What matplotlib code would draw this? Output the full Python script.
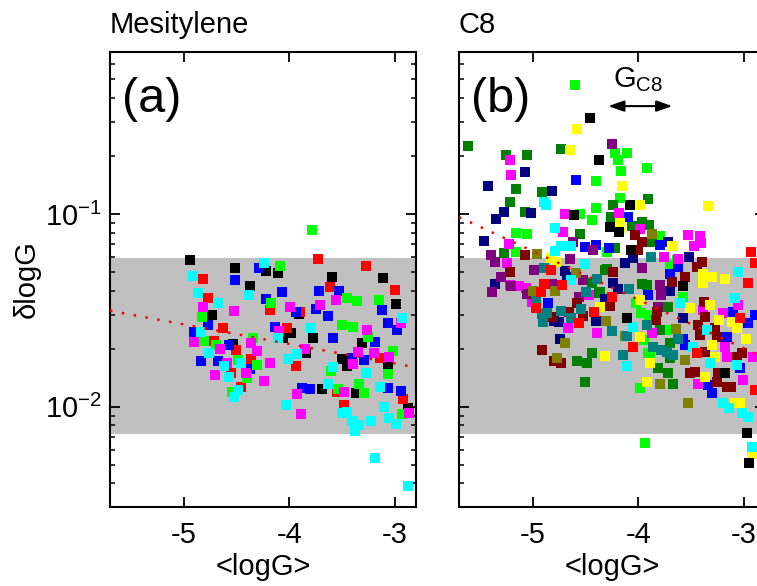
import numpy as np
import matplotlib
matplotlib.use('Agg')
import matplotlib.pyplot as plt
from matplotlib.ticker import MultipleLocator, NullLocator, NullFormatter, LogLocator

plt.rcParams['font.family'] = 'Liberation Sans'
plt.rcParams['mathtext.fontset'] = 'custom'
plt.rcParams['mathtext.rm'] = 'Liberation Sans'
plt.rcParams['mathtext.it'] = 'Liberation Sans:italic'
plt.rcParams['axes.unicode_minus'] = False

### data

# shaded range of dlogG
band_lo, band_hi = 0.0072, 0.059

# (a) Mesitylene
a_black_x = [-4.946, -4.519, -4.377, -4.226, -4.104, -4.736, -4.531, -4.057, -3.594, -3.113, -2.991,
             -3.906, -3.981, -3.774, -3.311, -3.500, -3.453, -3.066, -3.689, -3.368, -3.840, -2.877]
a_black_y = [0.0579, 0.0525, 0.0423, 0.0506, 0.0495, 0.0299, 0.0211, 0.0227, 0.0469, 0.0464, 0.0341,
             0.0303, 0.0241, 0.0227, 0.0213, 0.0177, 0.0163, 0.0161, 0.0124, 0.0118, 0.0191, 0.0098]
a_red_x = [-4.821, -4.774, -4.179, -4.632, -4.717, -4.509, -4.368, -4.557, -4.462, -4.019, -3.726,
           -3.274, -3.613, -3.000, -3.896, -3.934, -3.142, -2.925, -3.481, -3.547]
a_red_y = [0.0459, 0.0366, 0.0318, 0.0256, 0.0220, 0.0197, 0.0178, 0.0150, 0.0127, 0.0256, 0.0584,
           0.0537, 0.0418, 0.0403, 0.0310, 0.0163, 0.0179, 0.0110, 0.0102, 0.0120]
a_blue_x = [-4.519, -4.292, -4.066, -4.217, -4.774, -4.906, -4.575, -4.840, -4.679, -4.377, -4.132,
            -3.717, -3.528, -3.745, -3.632, -3.123, -3.066, -2.981, -3.585, -3.189, -3.292, -3.406,
            -3.802, -3.877, -3.066, -2.943, -3.934]
a_blue_y = [0.0455, 0.0524, 0.0393, 0.0362, 0.0265, 0.0244, 0.0209, 0.0173, 0.0173, 0.0157, 0.0259,
            0.0398, 0.0398, 0.0322, 0.0296, 0.0318, 0.0272, 0.0250, 0.0227, 0.0216, 0.0175, 0.0179,
            0.0124, 0.0125, 0.0125, 0.0121, 0.0310]
a_green_x = [-4.085, -4.170, -4.830, -4.811, -4.698, -4.491, -4.302, -4.406, -4.547, -4.349, -3.783,
             -3.453, -3.358, -3.151, -3.500, -3.396, -3.255, -3.019, -3.604, -3.538, -3.340, -3.292,
             -3.066, -2.934]
a_green_y = [0.0537, 0.0345, 0.0292, 0.0220, 0.0209, 0.0175, 0.0165, 0.0141, 0.0120, 0.0227, 0.0826,
             0.0366, 0.0354, 0.0358, 0.0265, 0.0259, 0.0231, 0.0195, 0.0153, 0.0124, 0.0131, 0.0118,
             0.0148, 0.0092]
a_magenta_x = [-4.821, -4.528, -4.906, -4.660, -4.594, -4.415, -4.708, -4.368, -4.302, -4.179, -4.094,
               -4.236, -3.991, -3.708, -3.557, -3.264, -2.943, -3.849, -3.349, -3.198, -3.396, -3.057,
               -3.481, -3.925, -3.887, -2.868]
a_magenta_y = [0.0329, 0.0314, 0.0217, 0.0199, 0.0169, 0.0150, 0.0146, 0.0213, 0.0195, 0.0169, 0.0247,
               0.0136, 0.0329, 0.0337, 0.0358, 0.0250, 0.0272, 0.0199, 0.0193, 0.0190, 0.0167, 0.0182,
               0.0119, 0.0116, 0.0092, 0.0093]
a_cyan_x = [-4.915, -4.236, -4.868, -4.679, -4.387, -4.840, -4.764, -4.462, -4.623, -4.575, -4.491,
            -4.528, -4.028, -4.104, -4.009, -3.792, -2.934, -3.925, -3.585, -3.274, -3.632, -3.142,
            -3.500, -3.453, -3.406, -3.340, -3.377, -3.226, -3.104, -3.057, -2.991, -3.189, -2.877]
a_cyan_y = [0.0477, 0.0557, 0.0390, 0.0345, 0.0380, 0.0244, 0.0190, 0.0169, 0.0163, 0.0143, 0.0122,
            0.0113, 0.0102, 0.0227, 0.0177, 0.0256, 0.0289, 0.0188, 0.0161, 0.0150, 0.0132, 0.0127,
            0.0093, 0.0094, 0.0084, 0.0080, 0.0075, 0.0084, 0.0100, 0.0087, 0.0081, 0.0054, 0.0039]

a_fit_x = [-5.7, -2.8]
a_fit_y = [0.0315, 0.0160]

# (b) C8
b_lime_x = [-4.597, -4.398, -4.398, -4.436, -4.550, -5.156, -5.052, -5.156, -4.218, -4.104, -4.190,
            -4.161, -3.915, -4.171, -4.047, -3.791, -3.630, -4.294, -3.697, -3.573, -4.023, -3.976,
            -3.900, -3.948, -3.910, -3.981, -3.934, -3.725, -3.886]
b_lime_y = [0.467, 0.148, 0.1075, 0.0931, 0.100, 0.0797, 0.0787, 0.0635, 0.207, 0.207, 0.191,
            0.167, 0.174, 0.121, 0.111, 0.077, 0.0577, 0.0635, 0.0544, 0.0371, 0.0345, 0.0305,
            0.0299, 0.0222, 0.0190, 0.0125, 0.0065, 0.0250, 0.0181]
b_green_x = [-5.611, -5.251, -5.052, -4.730, -5.156, -5.213, -4.910, -5.071, -4.550, -5.270, -3.905,
             -4.237, -4.256, -3.962, -3.896, -4.057, -3.867, -4.218, -4.313, -4.370, -4.436, -4.578,
             -4.483, -4.502, -4.436, -4.294, -3.962, -3.915, -3.716, -3.791, -3.697, -3.697, -3.716,
             -3.810, -3.668, -4.360]
b_green_y = [0.226, 0.202, 0.202, 0.218, 0.135, 0.116, 0.130, 0.102, 0.0787, 0.0627, 0.120,
             0.111, 0.0965, 0.0909, 0.0877, 0.0867, 0.0716, 0.0666, 0.0512, 0.0389, 0.0190, 0.0173,
             0.0169, 0.0134, 0.0439, 0.0518, 0.0433, 0.0428, 0.0329, 0.0250, 0.0214, 0.0179, 0.0150,
             0.0159, 0.0132, 0.0394]
b_navy_x = [-5.071, -4.815, -5.422, -5.270, -5.346, -5.014, -5.460, -3.716, -3.517, -4.047, -4.123,
            -5.355, -4.692, -4.673, -4.749, -4.796, -4.739, -4.398, -4.313, -4.237, -4.190, -3.697,
            -3.573]
b_navy_y = [0.165, 0.132, 0.139, 0.103, 0.0942, 0.101, 0.0722, 0.0716, 0.0598, 0.0591, 0.0557,
            0.0433, 0.0506, 0.0472, 0.0276, 0.0279, 0.0226, 0.0279, 0.0362, 0.0439, 0.0408, 0.0399,
            0.0289]
b_blue_x = [-4.588, -4.502, -4.398, -4.095, -3.791, -4.275, -3.621, -4.853, -3.697, -3.905, -3.573,
            -3.554, -3.336, -3.299, -3.100, -2.957, -3.033, -2.891, -3.156]
b_blue_y = [0.150, 0.0674, 0.0690, 0.0965, 0.0690, 0.0666, 0.0531, 0.0345, 0.0489, 0.0380, 0.0226,
            0.0209, 0.0130, 0.0118, 0.0310, 0.0272, 0.0159, 0.0299, 0.0230]
b_magenta_x = [-5.213, -5.204, -4.692, -4.711, -5.242, -5.223, -4.180, -3.526, -3.412, -3.403, -3.469,
               -3.981, -3.753, -3.621, -5.128, -5.062, -5.005, -4.664, -4.389, -4.464, -3.052, -3.194,
               -3.175, -3.156, -3.384, -3.431, -3.005, -2.910, -3.867, -5.213]
b_magenta_y = [0.191, 0.159, 0.100, 0.0807, 0.0557, 0.0698, 0.1012, 0.0778, 0.0769, 0.0707, 0.0682,
               0.0836, 0.0598, 0.0584, 0.0423, 0.0414, 0.0350, 0.0256, 0.0241, 0.0380, 0.0337, 0.0307,
               0.0205, 0.0181, 0.0318, 0.0132, 0.0138, 0.0181, 0.0241, 0.0428]
b_purple_x = [-4.616, -4.427, -5.393, -5.355, -4.645, -4.246, -5.299, -5.384, -5.204, -4.986, -4.815,
              -5.052, -4.521, -4.559, -3.962, -3.791, -3.782, -3.810]
b_purple_y = [0.0716, 0.0650, 0.0613, 0.0563, 0.0584, 0.232, 0.0472, 0.0394, 0.0423, 0.0512, 0.0433,
              0.0385, 0.0455, 0.0371, 0.0525, 0.0428, 0.0380, 0.0329]
b_maroon_x = [-5.071, -4.028, -3.962, -4.000, -3.393, -3.441, -5.213, -4.986, -4.910, -4.796, -4.730,
              -4.578, -4.521, -4.654, -4.815, -4.237, -3.554, -3.678, -3.820, -3.829, -3.374, -3.365,
              -3.431, -3.412, -3.270, -3.365, -3.251, -3.062, -3.014, -3.460, -3.507, -3.242, -3.251,
              -3.156, -3.118, -4.265]
b_maroon_y = [0.0613, 0.0778, 0.0716, 0.0650, 0.0563, 0.0531, 0.0500, 0.0385, 0.0197, 0.0173, 0.0169,
              0.0345, 0.0296, 0.0310, 0.0292, 0.0500, 0.0472, 0.0444, 0.0310, 0.0282, 0.0350, 0.0292,
              0.0265, 0.0235, 0.0256, 0.0192, 0.0230, 0.0181, 0.0190, 0.0151, 0.0150, 0.0150, 0.0134,
              0.0127, 0.0127, 0.0333]
b_olive_x = [-4.957, -3.867, -4.787, -4.692, -4.588, -4.303, -4.768, -4.123, -3.640, -3.554, -3.791,
             -3.526, -4.995]
b_olive_y = [0.0620, 0.0787, 0.0399, 0.0214, 0.0494, 0.0279, 0.0179, 0.0233, 0.0253, 0.0175, 0.0132,
             0.0104, 0.0399]
b_teal_x = [-4.891, -3.877, -4.967, -4.910, -4.863, -4.900, -4.730, -4.635, -4.540, -4.493, -4.389,
            -4.085, -3.915, -4.246, -4.104, -4.142, -3.858, -3.725, -3.668, -3.621, -3.782]
b_teal_y = [0.0525, 0.0598, 0.0354, 0.0303, 0.0307, 0.0276, 0.0314, 0.0289, 0.0322, 0.0394, 0.0461,
            0.0408, 0.0265, 0.0247, 0.0233, 0.0186, 0.0205, 0.0193, 0.0186, 0.0224, 0.0197]
b_yellow_x = [-4.578, -4.645, -4.825, -4.777, -4.152, -3.981, -3.336, -4.171, -4.171, -3.678, -3.384,
              -3.299, -3.175, -3.384, -3.981, -3.507, -3.318, -3.232, -3.109, -3.062, -2.976, -3.299,
              -3.270, -3.981, -3.886, -3.915, -3.365, -4.313, -3.081, -3.033, -2.919, -4.360]
b_yellow_y = [0.276, 0.215, 0.0591, 0.0563, 0.140, 0.111, 0.110, 0.0898, 0.0847, 0.0682, 0.0489,
              0.0472, 0.0461, 0.0439, 0.0358, 0.0326, 0.0337, 0.0282, 0.0276, 0.0257, 0.0224, 0.0209,
              0.0181, 0.0230, 0.0169, 0.0134, 0.0143, 0.0184, 0.0105, 0.0105, 0.0057, 0.0329]
b_cyan_x = [-4.891, -4.872, -4.787, -4.730, -4.635, -4.787, -4.502, -4.635, -3.052, -3.081, -3.602,
            -4.047, -3.479, -3.346, -4.104, -3.318, -3.062, -3.194, -3.137, -3.014, -2.957, -2.919]
b_cyan_y = [0.116, 0.111, 0.0847, 0.0682, 0.0682, 0.0642, 0.0550, 0.0455, 0.0500, 0.0367, 0.0345,
            0.0259, 0.0205, 0.0250, 0.0163, 0.0169, 0.0165, 0.0105, 0.0099, 0.0093, 0.0089, 0.0062]
b_red_x = [-2.929, -2.891, -4.825, -4.891, -4.919, -4.967, -4.720, -4.559, -4.417, -2.957, -4.246,
           -3.441, -2.891, -4.047, -3.033]
b_red_y = [0.0635, 0.0557, 0.0512, 0.0433, 0.0394, 0.0326, 0.0428, 0.0272, 0.0310, 0.0439, 0.0371,
           0.0190, 0.0122, 0.0205, 0.0289]
b_black_x = [-4.455, -4.370, -4.607, -4.076, -4.265, -4.066, -4.180, -3.573, -4.104, -2.967, -3.175,
             -2.948]
b_black_y = [0.314, 0.191, 0.0988, 0.111, 0.0857, 0.0650, 0.0807, 0.0423, 0.0289, 0.0073, 0.0150,
             0.0051]

b_fit_x = [-5.7, -2.8]
b_fit_y = [0.0964, 0.0179]

# range arrow G_C8
gc8_x = [-4.285, -3.678]
gc8_y = 0.363

series_a = [(a_black_x, a_black_y, 'black'), (a_red_x, a_red_y, 'red'),
            (a_blue_x, a_blue_y, 'blue'), (a_green_x, a_green_y, 'lime'),
            (a_magenta_x, a_magenta_y, 'magenta'), (a_cyan_x, a_cyan_y, 'cyan')]
series_b = [(b_lime_x, b_lime_y, 'lime'), (b_green_x, b_green_y, 'green'),
            (b_navy_x, b_navy_y, 'navy'), (b_blue_x, b_blue_y, 'blue'),
            (b_magenta_x, b_magenta_y, 'magenta'), (b_purple_x, b_purple_y, 'purple'),
            (b_maroon_x, b_maroon_y, 'maroon'), (b_olive_x, b_olive_y, 'olive'),
            (b_teal_x, b_teal_y, 'teal'), (b_yellow_x, b_yellow_y, 'yellow'),
            (b_cyan_x, b_cyan_y, 'cyan'), (b_red_x, b_red_y, 'red'),
            (b_black_x, b_black_y, 'black')]

### figure

fig = plt.figure(figsize=(7.57, 5.86), dpi=100)
ax_a = fig.add_axes([0.1453, 0.1348, 0.4042, 0.7765])
ax_b = fig.add_axes([0.6063, 0.1348, 0.4042, 0.7765])


def style_axes(ax, series, fit_x, fit_y, tag):
    ax.axhspan(band_lo, band_hi, color='#c0c0c0', lw=0, zorder=0)
    for xs, ys, col in series:
        ax.scatter(xs, ys, s=52, marker='s', c=col, linewidths=0, zorder=2)
    ax.plot(fit_x, fit_y, color='red', lw=1.8, ls=(0, (1, 3.8)), zorder=3)
    ax.set_yscale('log')
    ax.set_xlim(-5.7, -2.8)
    ax.set_ylim(0.00302, 0.693)
    ax.xaxis.set_major_locator(MultipleLocator(1))
    ax.xaxis.set_minor_locator(NullLocator())
    ax.yaxis.set_minor_locator(LogLocator(base=10, subs=np.arange(2, 10)))
    ax.yaxis.set_minor_formatter(NullFormatter())
    ax.tick_params(which='both', direction='in', top=True, right=True, labelsize=21)
    ax.tick_params(which='major', length=7, width=1.3)
    ax.tick_params(which='minor', length=3.6, width=1.1)
    ax.tick_params(axis='x', pad=10)
    ax.tick_params(axis='y', pad=6)
    for sp in ax.spines.values():
        sp.set_linewidth(1.5)
    ax.set_xlabel('<logG>', fontsize=21, labelpad=3)
    ax.text(0.04, 0.868, tag, transform=ax.transAxes, fontsize=35, va='baseline')


style_axes(ax_a, series_a, a_fit_x, a_fit_y, '(a)')
style_axes(ax_b, series_b, b_fit_x, b_fit_y, '(b)')
ax_b.set_yticklabels([])
ax_a.set_ylabel('δlogG', fontsize=21, labelpad=3)

ax_b.annotate('', xy=(gc8_x[1], gc8_y), xytext=(gc8_x[0], gc8_y),
              arrowprops=dict(arrowstyle='<|-|>,head_length=0.94,head_width=0.33',
                              mutation_scale=10, color='black', lw=1.5,
                              shrinkA=0, shrinkB=0), zorder=4)
ax_b.text(-4.237, 0.456, r'G$_{\mathregular{C8}}$', fontsize=21, va='baseline')

fig.text(110 / 757, 1 - 33 / 586, 'Mesitylene', fontsize=21, va='baseline')
fig.text(459 / 757, 1 - 33 / 586, 'C8', fontsize=21, va='baseline')

fig.savefig('out.png', dpi=100)
